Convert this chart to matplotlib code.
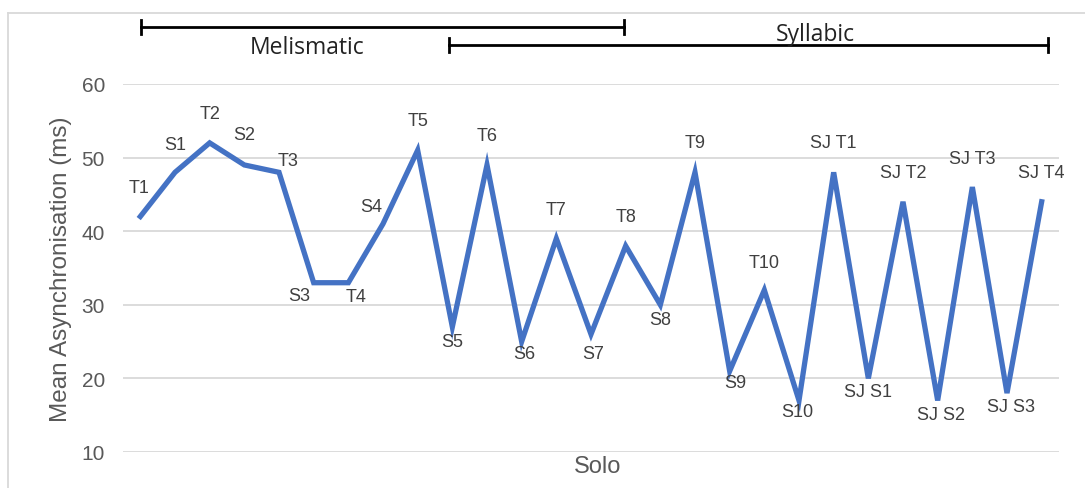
import matplotlib.pyplot as plt
from matplotlib.lines import Line2D

labels = ["T1", "S1", "T2", "S2", "T3", "S3", "T4", "S4", "T5", "S5",
          "T6", "S6", "T7", "S7", "T8", "S8", "T9", "S9", "T10", "S10",
          "SJ T1", "SJ S1", "SJ T2", "SJ S2", "SJ T3", "SJ S3", "SJ T4"]
values = [42, 48, 52, 49, 48, 33, 33, 41, 51, 27,
          49, 25, 39, 26, 38, 30, 48, 21, 32, 17,
          48, 20, 44, 17, 46, 18, 44]
yticks = [10, 20, 30, 40, 50, 60]

# label offsets in pixels (dx, dy) relative to each point
offsets = [(-1, 29), (0, 28), (0, 29), (0, 30), (9, 12), (-14, -13), (8, -14), (-12, 17),
           (0, 30), (0, -15), (0, 29), (3, -12), (0, 29), (2, -19), (0, 29), (0, -15),
           (0, 30), (6, -11), (0, 28), (-2, -11), (0, 30), (0, -13), (0, 29), (3, -14),
           (0, 29), (4, -13), (0, 29)]

W, H = 1085, 489
fig = plt.figure(figsize=(W / 100, H / 100), dpi=100)
ax = fig.add_axes([123 / W, 1 - 453 / H, (1059 - 123) / W, (453 - 85) / H])

x = list(range(len(values)))
ax.plot(x, values, color="#4472C4", lw=3.8, solid_joinstyle="miter", clip_on=False, zorder=3)

for xi, v, lab, (dx, dy) in zip(x, values, labels, offsets):
    ax.annotate(lab, (xi, v), xytext=(dx * 0.72, dy * 0.72), textcoords="offset points",
                ha="center", va="center", fontsize=13, color="#404040", family="Liberation Sans")

ax.set_xlim(-0.5, 26.5)
ax.set_ylim(10, 60)
ax.set_yticks(yticks)
ax.set_xticks([])
ax.grid(axis="y", color="#d9d9d9", lw=1.3)
ax.set_axisbelow(True)
for s in ax.spines.values():
    s.set_visible(False)
ax.tick_params(axis="y", length=0, pad=13, labelsize=15, labelcolor="#595959")
for t in ax.get_yticklabels():
    t.set_family("Liberation Sans")
ax.set_ylabel("Mean Asynchronisation (ms)", fontsize=17.5, color="#595959",
              family="Liberation Sans")
ax.yaxis.set_label_coords(-0.054, 0.5)
ax.set_xlabel("Solo", fontsize=17, color="#595959", family="Liberation Sans", labelpad=2)
ax.xaxis.label.set_x(0.5075)

# outer chart border
def fx(px):
    return px / W

def fy(py):
    return 1 - py / H

fig.add_artist(Line2D([fx(8), fx(8)], [0, fy(14)], color="#d9d9d9", lw=1.3))
fig.add_artist(Line2D([fx(8), 1], [fy(14), fy(14)], color="#d9d9d9", lw=1.3))

# group brackets
def bracket(x0, x1, py):
    fig.add_artist(Line2D([fx(x0), fx(x1)], [fy(py), fy(py)], color="black", lw=2))
    for xe in (x0, x1):
        fig.add_artist(Line2D([fx(xe), fx(xe)], [fy(py - 7), fy(py + 7)], color="black", lw=2))

bracket(141, 624, 28)
bracket(449, 1048, 46)
fig.text(fx(307), fy(48), "Melismatic", ha="center", va="center", fontsize=16.5,
         color="#222222", family="Open Sans")
fig.text(fx(815), fy(35), "Syllabic", ha="center", va="center", fontsize=16.5,
         color="#222222", family="Open Sans")

fig.savefig("out.png", dpi=100)
